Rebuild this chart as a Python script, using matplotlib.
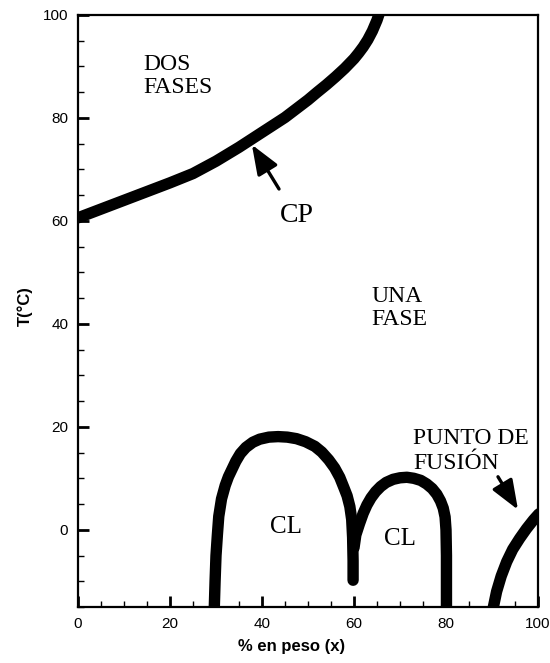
import matplotlib
matplotlib.use("Agg")
import matplotlib.pyplot as plt
from matplotlib.ticker import MultipleLocator

# Curva de punto de nube (CP)
cp_x = [0, 5, 10, 15, 20, 25, 30, 35, 40, 45, 50, 52, 54, 56, 58, 60, 61, 62, 63, 64, 65, 65.6]
cp_t = [60.6, 62.3, 64.0, 65.7, 67.4, 69.2, 71.6, 74.3, 77.2, 80.1, 83.5, 85.0, 86.45, 88.0, 89.65,
        91.5, 92.6, 93.8, 95.2, 96.9, 99.0, 100.6]

# Primera cúpula de cristal líquido (CL)
cl1_x = [29.6, 29.8, 30.0, 30.3, 30.6, 31.2, 32.0, 32.7, 33.5, 34.3, 35.3, 36.5, 38.0, 39.5, 41.5,
         43.5, 45.5, 47.5, 49.5, 51.5, 53.0, 54.5, 55.8, 56.9, 57.8, 58.5, 59.1, 59.5, 59.7, 59.8, 59.8]
cl1_t = [-16, -10, -5, -1, 2.6, 6.0, 8.6, 10.3, 11.8, 13.3, 14.8, 16.0, 17.0, 17.6, 18.0,
         18.1, 18.0, 17.7, 17.1, 16.2, 15.1, 13.6, 12.0, 10.2, 8.2, 6.6, 4.5, 2.0, -1.5, -6, -9.8]

# Segunda cúpula de cristal líquido (CL)
cl2_x = [60.0, 60.4, 61.2, 62.0, 62.8, 63.7, 64.7, 65.8, 67.0, 68.5, 70.0, 71.5, 73.0, 74.5, 75.8,
         77.0, 78.0, 78.8, 79.4, 79.8, 80.0, 80.1, 80.1]
cl2_t = [-3.5, -1.0, 1.2, 3.2, 4.8, 6.2, 7.4, 8.4, 9.2, 9.8, 10.1, 10.2, 10.0, 9.6, 8.9,
         8.0, 6.9, 5.6, 4.2, 2.5, 0.0, -5, -16]

# Curva de punto de fusión
pf_x = [90.1, 90.3, 91.0, 92.0, 93.2, 94.5, 96.0, 97.5, 99.0, 100.2]
pf_t = [-16, -15, -12, -9, -6.2, -3.8, -1.7, 0.2, 1.9, 3.1]

x_ticks = [0, 20, 40, 60, 80, 100]
y_ticks = [0, 20, 40, 60, 80, 100]

fig = plt.figure(figsize=(5.5, 6.63), dpi=100)
ax = fig.add_axes([78 / 550, 1 - 607 / 663, 460 / 550, 592 / 663])

curve_kw = dict(color="black", lw=8.2, solid_capstyle="round", solid_joinstyle="round")
ax.plot(cp_x, cp_t, **curve_kw)
ax.plot(cl1_x, cl1_t, **curve_kw)
ax.plot(cl2_x, cl2_t, **curve_kw)
ax.plot(pf_x, pf_t, **curve_kw)

ax.set_xlim(0, 100)
ax.set_ylim(-15, 100)
ax.set_xticks(x_ticks)
ax.set_yticks(y_ticks)
ax.xaxis.set_minor_locator(MultipleLocator(5))
ax.yaxis.set_minor_locator(MultipleLocator(5))

for s in ax.spines.values():
    s.set_linewidth(1.6)

ax.tick_params(which="major", direction="in", length=8, width=2, pad=7)
ax.tick_params(which="minor", direction="in", length=4.3, width=1)
ax.tick_params(axis="x", which="major", pad=7)
for lab in ax.get_xticklabels() + ax.get_yticklabels():
    lab.set_fontfamily(["Liberation Sans", "DejaVu Sans"])
    lab.set_fontsize(11)

label_font = dict(family=["Liberation Sans", "DejaVu Sans"], size=12, weight="bold")
fig.text(292 / 550, 1 - 647 / 663, "% en peso (x)", ha="center", va="center", **label_font)
fig.text(25 / 550, 1 - 306 / 663, "T(°C)", ha="center", va="center", rotation=90, **label_font)

serif = ["Liberation Serif", "DejaVu Serif"]
ax.text(14.1, 84.9, "DOS\nFASES", family=serif, size=17, va="baseline", ha="left",
        linespacing=1.1)
ax.text(63.7, 39.8, "UNA\nFASE", family=serif, size=17, va="baseline", ha="left",
        linespacing=1.1)
ax.text(43.9, 59.7, "CP", family=serif, size=20, va="baseline", ha="left")
ax.text(41.7, -0.65, "CL", family=serif, size=18, va="baseline", ha="left")
ax.text(66.6, -2.9, "CL", family=serif, size=18, va="baseline", ha="left")
ax.text(72.8, 11.8, "PUNTO DE\nFUSIÓN", family=serif, size=17, va="baseline", ha="left",
        linespacing=1.25)

arrow_kw = dict(arrowstyle="-|>,head_length=0.9,head_width=0.35", color="black", lw=2.4,
                shrinkA=0, shrinkB=0, mutation_scale=20)
ax.annotate("", xy=(37.8, 74.8), xytext=(43.7, 66.2), arrowprops=arrow_kw)
ax.annotate("", xy=(95.65, 3.9), xytext=(91.3, 10.3), arrowprops=arrow_kw)

fig.savefig("out.png", dpi=100)
